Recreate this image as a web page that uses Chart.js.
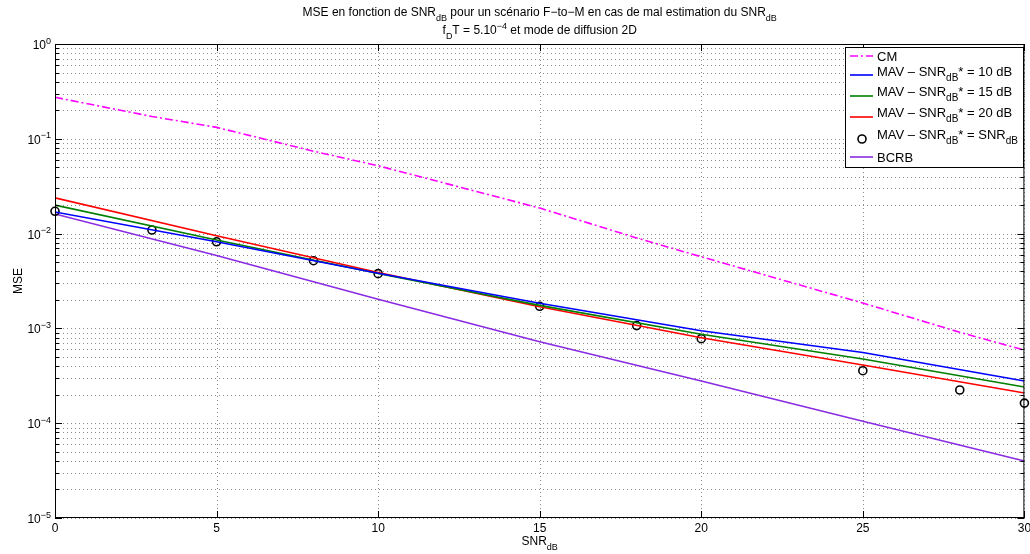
<!DOCTYPE html>
<html>
<head>
<meta charset="utf-8">
<script src="https://cdn.jsdelivr.net/npm/chart.js@4"></script>
<style>
  html, body { margin: 0; padding: 0; background: #fff; }
  canvas { display: block; }
</style>
</head>
<body>
<canvas id="mseChart" width="1030" height="554"></canvas>
<script>
// Données (SNR en dB, MSE)
const snrPoints = [0, 3, 5, 8, 10, 15, 18, 20, 25, 28, 30];
const snrLine = [0, 5, 10, 15, 20, 25, 30];

const cmValues = [0.274, 0.172, 0.132, 0.074, 0.052, 0.0186, 0.0090, 0.0057, 0.00185, 0.00091, 0.00059];
const mav10Values = [0.0169, 0.00822, 0.00381, 0.00184, 0.000946, 0.000557, 0.000279];
const mav15Values = [0.0200, 0.00855, 0.00379, 0.00175, 0.000866, 0.000475, 0.000241];
const mav20Values = [0.0238, 0.00951, 0.00389, 0.00169, 0.000798, 0.000411, 0.000208];
const mavSnrValues = [0.0172, 0.0109, 0.0082, 0.00518, 0.00378, 0.00171, 0.00107, 0.00078, 0.000358, 0.000224, 0.000163];
const bcrbValues = [0.0161, 0.00588, 0.00203, 0.000724, 0.000279, 0.000105, 0.000040];

const xTicks = [0, 5, 10, 15, 20, 25, 30];
const yDecades = [0, -1, -2, -3, -4, -5];

const FONT = '"Liberation Sans", Arial, Helvetica, sans-serif';

function toXY(xs, ys) {
    return xs.map((x, i) => ({ x: x, y: ys[i] }));
}

// Texte avec indices / exposants : parts = [{t, sub, sup}]
function drawRich(ctx, parts, x, y, align, size) {
    const small = Math.round(size * 0.75);
    let total = 0;
    parts.forEach(p => {
        ctx.font = (p.sub || p.sup ? small : size) + 'px ' + FONT;
        p.w = ctx.measureText(p.t).width;
        total += p.w;
    });
    let cx = x;
    if (align === 'center') cx = x - total / 2;
    if (align === 'right') cx = x - total;
    ctx.textAlign = 'left';
    ctx.textBaseline = 'alphabetic';
    parts.forEach(p => {
        ctx.font = (p.sub || p.sup ? small : size) + 'px ' + FONT;
        let dy = 0;
        if (p.sub) dy = size * 0.38;
        if (p.sup) dy = -size * 0.45;
        ctx.fillText(p.t, cx, y + dy);
        cx += p.w;
    });
    return total;
}

// Grille pointillée façon MATLAB (sous les courbes)
const gridPlugin = {
    id: 'gridPlugin',
    beforeDatasetsDraw(chart) {
        const { ctx, chartArea: a, scales } = chart;
        ctx.save();
        ctx.strokeStyle = 'rgba(0,0,0,0.45)';
        ctx.lineWidth = 1;
        ctx.setLineDash([1, 3]);
        xTicks.forEach(v => {
            const px = Math.round(scales.x.getPixelForValue(v)) + 0.5;
            ctx.beginPath(); ctx.moveTo(px, a.top); ctx.lineTo(px, a.bottom); ctx.stroke();
        });
        for (let e = -5; e < 0; e++) {
            for (let k = 1; k <= 9; k++) {
                const py = Math.round(scales.y.getPixelForValue(k * Math.pow(10, e))) + 0.5;
                ctx.beginPath(); ctx.moveTo(a.left, py); ctx.lineTo(a.right, py); ctx.stroke();
            }
        }
        ctx.restore();
    }
};

// Cadre, graduations, libellés, titre et légende
const decorPlugin = {
    id: 'decorPlugin',
    afterDraw(chart) {
        const { ctx, chartArea: a, scales } = chart;
        ctx.save();
        ctx.setLineDash([]);
        ctx.strokeStyle = '#000';
        ctx.lineWidth = 1;
        ctx.strokeRect(a.left + 0.5, a.top + 0.5, a.right - a.left - 1, a.bottom - a.top - 1);

        // graduations
        xTicks.forEach(v => {
            const px = Math.round(scales.x.getPixelForValue(v)) + 0.5;
            ctx.beginPath();
            ctx.moveTo(px, a.bottom); ctx.lineTo(px, a.bottom - 7);
            ctx.moveTo(px, a.top); ctx.lineTo(px, a.top + 7);
            ctx.stroke();
        });
        for (let e = -5; e <= 0; e++) {
            for (let k = 1; k <= 9; k++) {
                if (e === 0 && k > 1) break;
                const py = Math.round(scales.y.getPixelForValue(k * Math.pow(10, e))) + 0.5;
                const len = k === 1 ? 7 : 4;
                ctx.beginPath();
                ctx.moveTo(a.left, py); ctx.lineTo(a.left + len, py);
                ctx.moveTo(a.right, py); ctx.lineTo(a.right - len, py);
                ctx.stroke();
            }
        }

        ctx.fillStyle = '#000';
        // libellés de l'axe x
        ctx.font = '12px ' + FONT;
        ctx.textAlign = 'center';
        ctx.textBaseline = 'top';
        xTicks.forEach(v => {
            ctx.fillText(String(v), scales.x.getPixelForValue(v), a.bottom + 5);
        });
        // libellés de l'axe y
        yDecades.forEach(e => {
            const py = scales.y.getPixelForValue(Math.pow(10, e));
            const exp = e === 0 ? '0' : '\u2212' + (-e);
            drawRich(ctx, [{ t: '10' }, { t: exp, sup: true }], 51, py + 5, 'right', 12);
        });

        // titres d'axes
        drawRich(ctx, [{ t: 'SNR' }, { t: 'dB', sub: true }], (a.left + a.right) / 2, 545, 'center', 12);
        ctx.save();
        ctx.translate(22, (a.top + a.bottom) / 2);
        ctx.rotate(-Math.PI / 2);
        drawRich(ctx, [{ t: 'MSE' }], 0, 0, 'center', 12);
        ctx.restore();

        // titre
        const cx = (a.left + a.right) / 2;
        drawRich(ctx, [
            { t: 'MSE en fonction de SNR' }, { t: 'dB', sub: true },
            { t: ' pour un scénario F\u2212to\u2212M en cas de mal estimation du SNR' }, { t: 'dB', sub: true }
        ], cx, 16, 'center', 12);
        drawRich(ctx, [
            { t: 'f' }, { t: 'D', sub: true }, { t: 'T = 5.10' }, { t: '\u22124', sup: true },
            { t: ' et mode de diffusion 2D' }
        ], cx, 34, 'center', 12);

        // légende
        const lx = 845, ly = 47, lw = 178, lh = 120;
        ctx.fillStyle = '#fff';
        ctx.fillRect(lx, ly, lw, lh);
        ctx.strokeStyle = '#000';
        ctx.strokeRect(lx + 0.5, ly + 0.5, lw, lh);
        const entries = [
            { ds: 0, y: 56, base: 61, parts: [{ t: 'CM' }] },
            { ds: 1, y: 75, base: 76, parts: [{ t: 'MAV \u2013 SNR' }, { t: 'dB', sub: true }, { t: '* = 10 dB' }] },
            { ds: 2, y: 96, base: 96, parts: [{ t: 'MAV \u2013 SNR' }, { t: 'dB', sub: true }, { t: '* = 15 dB' }] },
            { ds: 3, y: 117, base: 117, parts: [{ t: 'MAV \u2013 SNR' }, { t: 'dB', sub: true }, { t: '* = 20 dB' }] },
            { ds: 4, y: 139, base: 139, parts: [{ t: 'MAV \u2013 SNR' }, { t: 'dB', sub: true }, { t: '* = SNR' }, { t: 'dB', sub: true }] },
            { ds: 5, y: 157, base: 162, parts: [{ t: 'BCRB' }] }
        ];
        entries.forEach(en => {
            const ds = chart.data.datasets[en.ds];
            ctx.save();
            if (ds.showLine === false) {
                ctx.strokeStyle = ds.pointBorderColor;
                ctx.lineWidth = ds.pointBorderWidth;
                ctx.beginPath();
                ctx.arc(862, en.y, ds.pointRadius, 0, Math.PI * 2);
                ctx.stroke();
            } else {
                ctx.strokeStyle = ds.borderColor;
                ctx.lineWidth = ds.borderWidth;
                ctx.setLineDash(ds.borderDash || []);
                ctx.beginPath();
                ctx.moveTo(850, en.y); ctx.lineTo(873, en.y);
                ctx.stroke();
            }
            ctx.restore();
            ctx.fillStyle = '#000';
            drawRich(ctx, en.parts, 877, en.base, 'left', 13);
        });
        ctx.restore();
    }
};

const lineStyle = { fill: false, pointRadius: 0, tension: 0, borderWidth: 1.6 };

new Chart(document.getElementById('mseChart').getContext('2d'), {
    type: 'line',
    data: {
        datasets: [
            Object.assign({ label: 'CM', data: toXY(snrPoints, cmValues), borderColor: '#ff00ff', borderDash: [8, 3, 2, 3] }, lineStyle),
            Object.assign({ label: 'MAV 10 dB', data: toXY(snrLine, mav10Values), borderColor: '#0000ff' }, lineStyle),
            Object.assign({ label: 'MAV 15 dB', data: toXY(snrLine, mav15Values), borderColor: '#008000' }, lineStyle),
            Object.assign({ label: 'MAV 20 dB', data: toXY(snrLine, mav20Values), borderColor: '#ff0000' }, lineStyle),
            {
                label: 'MAV SNR', data: toXY(snrPoints, mavSnrValues), showLine: false,
                pointRadius: 4, pointBorderWidth: 1.6, pointBorderColor: '#000', pointBackgroundColor: 'rgba(0,0,0,0)',
                clip: false
            },
            Object.assign({ label: 'BCRB', data: toXY(snrLine, bcrbValues), borderColor: '#8a2be2' }, lineStyle)
        ]
    },
    options: {
        responsive: false,
        animation: false,
        devicePixelRatio: 1,
        layout: { padding: { left: 55, right: 5, top: 44, bottom: 36 } },
        plugins: { legend: { display: false }, title: { display: false }, tooltip: { enabled: false } },
        scales: {
            x: { type: 'linear', min: 0, max: 30, display: false },
            y: { type: 'logarithmic', min: 1e-5, max: 1, display: false }
        }
    },
    plugins: [gridPlugin, decorPlugin]
});
</script>
</body>
</html>
